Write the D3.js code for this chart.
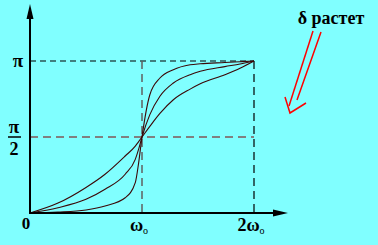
<!DOCTYPE html>
<html>
<head>
<meta charset="utf-8">
<script src="https://cdn.jsdelivr.net/npm/d3@7"></script>
<style>
  html, body { margin: 0; padding: 0; background: #80ffff; }
  svg { display: block; }
  text { font-family: "Liberation Serif", "Times New Roman", serif; font-weight: bold; }
</style>
</head>
<body>
<div id="chart"></div>
<script>
// frequency in units of w0, phase in units of pi
var omega  = [0, 0.25, 0.5, 0.67, 0.85, 0.94, 0.97, 1, 1.07, 1.16, 1.28, 1.43, 1.52, 1.74, 1.875, 2];
var phaseA = [0, 0.065, 0.168, 0.255, 0.375, 0.44, 0.47, 0.5, 0.57, 0.655, 0.745, 0.815, 0.85, 0.91, 0.952, 1];
var phaseB = [0, 0.035, 0.09, 0.156, 0.255, 0.353, 0.42, 0.5, 0.647, 0.768, 0.855, 0.91, 0.932, 0.963, 0.98, 1];
var phaseC = [0, 0.006, 0.02, 0.046, 0.10, 0.2, 0.33, 0.5, 0.778, 0.888, 0.943, 0.975, 0.982, 0.99, 0.995, 1];
var xTicks = [1, 2];
var xTickLabels = ["ω", "2ω"];
var yTicks = [0.5, 1];

function init()
{
    var w = 378;
    var h = 245;

    var xScale = d3.scaleLinear()
                    .domain([0, 2])
                    .range([30, 254]);

    var yScale = d3.scaleLinear()
                    .domain([0, 1])
                    .range([213, 61]);

    var svg = d3.select("#chart")
                .append("svg")
                .attr("width", w)
                .attr("height", h);

    svg.append("rect")
       .attr("width", w)
       .attr("height", h)
       .attr("fill", "#80ffff");

    //guide lines
    svg.append("line")
       .attr("x1", xScale(0)).attr("x2", xScale(2))
       .attr("y1", yScale(1)).attr("y2", yScale(1))
       .attr("stroke", "#000").attr("stroke-width", 1.2)
       .attr("stroke-dasharray", "6,4");
    svg.append("line")
       .attr("x1", xScale(0)).attr("x2", xScale(2))
       .attr("y1", yScale(0.5)).attr("y2", yScale(0.5))
       .attr("stroke", "#808080").attr("stroke-width", 2)
       .attr("stroke-dasharray", "8,5");
    svg.append("line")
       .attr("x1", xScale(1)).attr("x2", xScale(1))
       .attr("y1", yScale(1)).attr("y2", yScale(0))
       .attr("stroke", "#606060").attr("stroke-width", 1.5)
       .attr("stroke-dasharray", "8,5");
    svg.append("line")
       .attr("x1", xScale(2)).attr("x2", xScale(2))
       .attr("y1", yScale(1)).attr("y2", yScale(0))
       .attr("stroke", "#000").attr("stroke-width", 1.2)
       .attr("stroke-dasharray", "8,5");

    //curves
    var line = d3.line()
                 .x(function(d, i) { return xScale(omega[i]); })
                 .y(function(d) { return yScale(d); })
                 .curve(d3.curveMonotoneX);

    svg.selectAll("path.curve")
       .data([phaseA, phaseB, phaseC])
       .enter()
       .append("path")
       .attr("class", "curve")
       .attr("d", line)
       .attr("fill", "none")
       .attr("stroke", "#3a0808")
       .attr("stroke-width", 1.1);

    //axes
    var x0 = xScale(0), y0 = yScale(0);
    svg.append("line")
       .attr("x1", x0).attr("x2", x0)
       .attr("y1", y0 + 1).attr("y2", 14)
       .attr("stroke", "#000").attr("stroke-width", 2);
    svg.append("path")
       .attr("d", "M" + x0 + ",4 L" + (x0 - 3.5) + ",19 L" + (x0 + 3.5) + ",19 Z")
       .attr("fill", "#000");
    svg.append("line")
       .attr("x1", x0 - 1).attr("x2", 278)
       .attr("y1", y0).attr("y2", y0)
       .attr("stroke", "#000").attr("stroke-width", 2);
    svg.append("path")
       .attr("d", "M288," + y0 + " L273," + (y0 - 3.5) + " L273," + (y0 + 3.5) + " Z")
       .attr("fill", "#000");

    //tick labels
    svg.append("text")
       .attr("x", 26).attr("y", 229)
       .attr("text-anchor", "middle")
       .attr("font-size", 17)
       .text("0");

    xTicks.forEach(function(t, i) {
        var g = svg.append("text")
                   .attr("x", xScale(t) - 3)
                   .attr("y", 231)
                   .attr("text-anchor", "middle")
                   .attr("font-size", 18);
        g.append("tspan").text(xTickLabels[i]);
        g.append("tspan")
         .attr("font-size", 10)
         .attr("font-weight", "normal")
         .attr("dy", 3)
         .text("o");
    });

    //pi
    svg.append("text")
       .attr("x", 18).attr("y", yScale(yTicks[1]) + 6)
       .attr("text-anchor", "middle")
       .attr("font-size", 19)
       .text("π");
    //pi/2 fraction
    var yh = yScale(yTicks[0]);
    svg.append("text")
       .attr("x", 14).attr("y", yh - 4)
       .attr("text-anchor", "middle")
       .attr("font-size", 19)
       .text("π");
    svg.append("line")
       .attr("x1", 8).attr("x2", 21)
       .attr("y1", yh).attr("y2", yh)
       .attr("stroke", "#000").attr("stroke-width", 1.5);
    svg.append("text")
       .attr("x", 14).attr("y", yh + 18)
       .attr("text-anchor", "middle")
       .attr("font-size", 18)
       .text("2");

    //annotation
    svg.append("text")
       .attr("x", 331).attr("y", 24)
       .attr("text-anchor", "middle")
       .attr("font-size", 18)
       .text("δ растет");

    svg.append("line")
       .attr("x1", 313).attr("y1", 31).attr("x2", 289).attr("y2", 106)
       .attr("stroke", "red").attr("stroke-width", 1.5);
    svg.append("line")
       .attr("x1", 321).attr("y1", 32).attr("x2", 297).attr("y2", 100)
       .attr("stroke", "red").attr("stroke-width", 1.5);
    svg.append("polyline")
       .attr("points", "285,97 290,113 306,103")
       .attr("fill", "none")
       .attr("stroke", "red").attr("stroke-width", 1.5);
}
window.onload = init;
</script>
</body>
</html>
